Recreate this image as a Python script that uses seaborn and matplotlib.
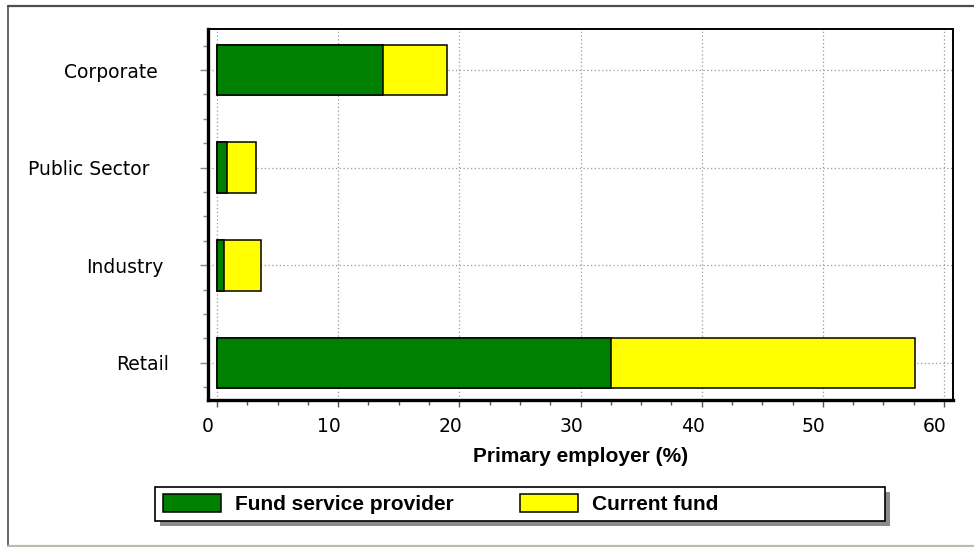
import matplotlib
matplotlib.use("Agg")
import matplotlib.pyplot as plt
import matplotlib.transforms as mtransforms
from matplotlib.patches import Rectangle, Patch
from matplotlib.lines import Line2D
from matplotlib.ticker import MultipleLocator, FixedLocator
import numpy as np
import pandas as pd
import seaborn as sns

# ---- data -------------------------------------------------------------
categories = ["Corporate", "Public Sector", "Industry", "Retail"]
fund_service_provider = [13.7, 0.8, 0.6, 32.5]
current_fund = [5.3, 2.4, 3.0, 25.1]
series_names = ["Fund service provider", "Current fund"]
x_ticks = [0, 10, 20, 30, 40, 50, 60]
x_label = "Primary employer (%)"

# ---- style ------------------------------------------------------------
GREEN = "#008000"
YELLOW = "#ffff00"
TICK_FONT = ["DejaVu Sans"]
BOLD_FONT = ["Liberation Sans", "DejaVu Sans"]

sns.set_theme(style="white")
plt.rcParams["font.family"] = TICK_FONT
plt.rcParams["text.color"] = "black"
plt.rcParams["axes.labelcolor"] = "black"

DPI = 100
W, H = 974, 547
fig = plt.figure(figsize=(W / DPI, H / DPI), dpi=DPI)
fig.patch.set_facecolor("white")


def fx(px):
    return px / W


def fy(py):
    return 1 - py / H


ax = fig.add_axes([fx(208), fy(400), fx(953) - fx(208), fy(29) - fy(400)])
ax.set_facecolor("white")

df = pd.DataFrame({
    "category": categories,
    "provider": fund_service_provider,
    "current": current_fund,
})
df["total"] = df["provider"] + df["current"]

bar_kw = dict(orient="h", order=categories, width=0.52, saturation=1,
              edgecolor="black", linewidth=1.1, errorbar=None, ax=ax)
# stacked bars: full length in yellow, provider share in green over it
sns.barplot(data=df, y="category", x="total", color=YELLOW, **bar_kw)
sns.barplot(data=df, y="category", x="provider", color=GREEN, **bar_kw)

# ---- axes -------------------------------------------------------------
ax.set_xlim(-0.74, 60.74)
ax.set_ylim(3.38, -0.42)
ax.set_xticks(x_ticks)
ax.set_xticklabels([str(t) for t in x_ticks])
ax.xaxis.set_minor_locator(MultipleLocator(2.5))
ax.set_yticks(range(len(categories)))
ax.set_yticklabels(categories)
quarter = [q for q in np.arange(-0.25, len(categories) - 0.74, 0.25)
           if abs(q - round(q)) > 1e-6]
ax.yaxis.set_minor_locator(FixedLocator(quarter))

ax.set_ylabel("")
ax.set_xlabel(x_label, fontsize=15, fontweight="bold", family=BOLD_FONT,
              color="black", labelpad=8)

ax.grid(which="major", axis="both", linestyle=(0, (1, 2)),
        color="#999999", linewidth=0.9)
ax.set_axisbelow(True)

for side in ["left", "bottom"]:
    ax.spines[side].set_linewidth(2.4)
    ax.spines[side].set_color("black")
for side in ["top", "right"]:
    ax.spines[side].set_linewidth(1.4)
    ax.spines[side].set_color("black")

ax.tick_params(axis="x", which="major", bottom=True, direction="out",
               length=5, width=1, color="#555555", labelsize=13.5,
               labelcolor="black", pad=7)
ax.tick_params(axis="x", which="minor", bottom=True, direction="out",
               length=3.5, width=1, color="#555555")
ax.tick_params(axis="y", which="major", left=True, direction="out",
               length=6, width=1, color="#8a8a8a", labelsize=13.5,
               labelcolor="black", pad=30)
ax.tick_params(axis="y", which="minor", left=True, direction="out",
               length=3.6, width=1, color="#8a8a8a")

# small horizontal nudges of the tick labels
shift_x = mtransforms.ScaledTranslation(-9 / DPI, 0, fig.dpi_scale_trans)
for lbl in ax.get_xticklabels():
    lbl.set_transform(lbl.get_transform() + shift_x)
y_nudge = {"Corporate": 0, "Public Sector": -9, "Industry": 5, "Retail": 11}
for lbl in ax.get_yticklabels():
    dx = y_nudge.get(lbl.get_text(), 0)
    lbl.set_transform(lbl.get_transform() +
                      mtransforms.ScaledTranslation(dx / DPI, 0,
                                                    fig.dpi_scale_trans))

# ---- legend -----------------------------------------------------------
shadow = Rectangle((fx(160), fy(526)), fx(890) - fx(160), fy(492) - fy(526),
                   transform=fig.transFigure, facecolor="#8c8c8c",
                   edgecolor="none", zorder=2)
frame = Rectangle((fx(155), fy(521)), fx(885) - fx(155), fy(487) - fy(521),
                  transform=fig.transFigure, facecolor="white",
                  edgecolor="black", linewidth=1.2, zorder=3)
fig.add_artist(shadow)
fig.add_artist(frame)

handles = [Patch(facecolor=GREEN, edgecolor="black", linewidth=1.1),
           Patch(facecolor=YELLOW, edgecolor="black", linewidth=1.1)]
leg = fig.legend(handles, series_names, loc="center left",
                 bbox_to_anchor=(fx(163), fy(504)),
                 bbox_transform=fig.transFigure, ncol=2, frameon=False,
                 borderpad=0, borderaxespad=0, handlelength=2.78,
                 handleheight=1.0, handletextpad=0.67, columnspacing=3.2,
                 labelcolor="black",
                 prop={"family": BOLD_FONT, "weight": "bold", "size": 15})
leg.set_zorder(5)

# ---- outer panel border -------------------------------------------------
fig.add_artist(Line2D([fx(8), fx(974)], [fy(6), fy(6)],
                      transform=fig.transFigure, color="#4d4d4d", lw=1.6))
fig.add_artist(Line2D([fx(8), fx(8)], [fy(6), fy(546)],
                      transform=fig.transFigure, color="#4d4d4d", lw=1.2))
fig.add_artist(Line2D([fx(8), fx(974)], [fy(545.5), fy(545.5)],
                      transform=fig.transFigure, color="#bdbab0", lw=1.6))

fig.savefig("out.png", dpi=DPI, facecolor="white")
